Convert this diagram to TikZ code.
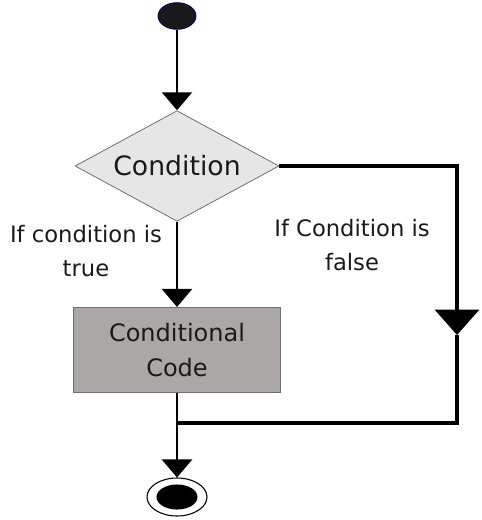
\documentclass[tikz,border=0pt]{standalone}
\usepackage{fontspec}
\setmainfont{DejaVu Sans}
\usetikzlibrary{shapes.geometric,arrows.meta}

\definecolor{condfill}{HTML}{E6E6E6}
\definecolor{codefill}{HTML}{ABA7A7}
\definecolor{edgegray}{HTML}{707070}
\definecolor{txtgray}{HTML}{1A1A1A}

\begin{document}
\begin{tikzpicture}[x=0.75pt, y=-0.75pt,
    flow/.style={line width=1.9pt, -{Triangle[width=22.5pt, length=13.5pt]}},
    startnode/.style={ellipse, fill=black!90, draw=blue!40!black, line width=0.6pt, minimum width=28.5pt, minimum height=20pt, inner sep=0pt},
    endnode/.style={ellipse, draw=black, line width=0.8pt, minimum width=45pt, minimum height=28.5pt, inner sep=0pt},
    decision/.style={diamond, aspect=1.83, draw=edgegray, fill=condfill, line width=0.6pt, minimum width=153pt, minimum height=83pt, inner sep=0pt, text=txtgray, font=\fontsize{20}{24}\selectfont},
    codebox/.style={rectangle, draw=edgegray, fill=codefill, line width=0.6pt, minimum width=155pt, minimum height=64pt, align=center, text=txtgray, font=\fontsize{18}{26}\selectfont},
    lbl/.style={align=center, text=txtgray, font=\fontsize{17}{25}\selectfont}]

    \useasboundingbox (0,0) rectangle (481,520);

    % Noeuds du diagramme
    \node[startnode] (start) at (177,16) {};
    \node[decision] (cond) at (177,166) {Condition};
    \node[codebox] (code) at (177,350) {Conditional\\Code};
    \node[endnode] (end) at (177,497) {};
    \fill[black] (end.center) ellipse [x radius=15.4pt, y radius=9.4pt];

    % Etiquettes des branches
    \node[lbl] (truelbl) at (86,251) {If condition is\\true};
    \node[lbl] (falselbl) at (352,245) {If Condition is\\false};

    % Points de la branche de droite
    \coordinate (rtop) at (457,166);
    \coordinate (rmid) at (457,335);
    \coordinate (rbot) at (457,423);
    \coordinate (join) at (177,423);

    % Branche principale
    \draw[flow] (start) -- (cond);
    \draw[flow] (cond) -- (code);
    \draw[flow] (code) -- (end);

    % Branche "false"
    \draw[line width=2.6pt, line join=miter, -{Triangle[width=33pt, length=19pt]}] (cond.east) -- (rtop) -- (rmid);
    \draw[line width=3pt, line join=miter] (rmid) -- (rbot) -- (join);

\end{tikzpicture}
\end{document}
